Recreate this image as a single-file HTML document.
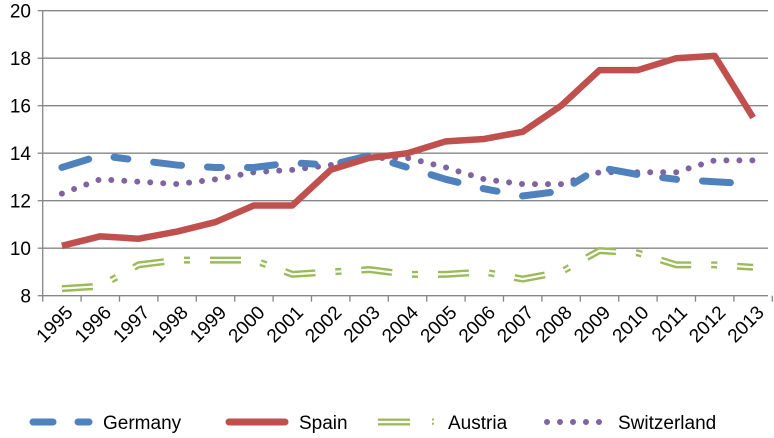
<!DOCTYPE html>
<html><head><meta charset="utf-8"><style>
body{margin:0;background:#fff;width:774px;height:433px;overflow:hidden}
text{font-family:"Liberation Sans",sans-serif;fill:#000}
</style></head><body>
<svg id="chart" width="774" height="433" xmlns="http://www.w3.org/2000/svg"></svg>
<script>
const categories=['1995','1996','1997','1998','1999','2000','2001','2002','2003','2004','2005','2006','2007','2008','2009','2010','2011','2012','2013'];
const germany=[13.4,13.9,13.7,13.5,13.4,13.4,13.6,13.5,13.9,13.4,12.9,12.5,12.2,12.4,13.4,13.1,12.9,12.8,12.7];
const spain=[10.1,10.5,10.4,10.7,11.1,11.8,11.8,13.3,13.8,14.0,14.5,14.6,14.9,16.0,17.5,17.5,18.0,18.1,15.5];
const austria=[8.3,8.4,9.3,9.5,9.5,9.5,8.9,9.0,9.1,8.9,8.9,9.0,8.7,9.0,9.9,9.8,9.3,9.3,9.2];
const switzerland=[12.3,12.9,12.8,12.7,12.9,13.2,13.3,13.5,13.8,13.8,13.4,12.9,12.7,12.7,13.2,13.2,13.2,13.7,13.7];
const yTicks=[8,10,12,14,16,18,20];
const svg=document.getElementById('chart');
const NS='http://www.w3.org/2000/svg';
const x0=42.7,step=38.4;
function xs(i){return x0+step/2+i*step;}
function ys(v){return 295.7-(v-8)*23.75;}
function mk(tag,attrs){const e=document.createElementNS(NS,tag);for(const k in attrs)e.setAttribute(k,attrs[k]);svg.appendChild(e);return e;}
yTicks.forEach(t=>{
  const g=mk('line',{x1:x0,x2:768,y1:ys(t),y2:ys(t),stroke:'#868686','stroke-width':1.3});
  
  
  const l=mk('text',{x:31,y:ys(t)+7,'text-anchor':'end','font-size':19});
  l.textContent=t;
  
  
  const tk=mk('line',{x1:x0-5,x2:x0,y1:ys(t),y2:ys(t),stroke:'#868686','stroke-width':1.3});
  
  
});
const ax=mk('line',{x1:x0,x2:x0,y1:ys(20),y2:ys(8),stroke:'#868686','stroke-width':1.3});


for(let i=0;i<=categories.length;i++){
  const tk=mk('line',{x1:x0+i*step,x2:x0+i*step,y1:ys(8),y2:ys(8)+6,stroke:'#868686','stroke-width':1.3});
  
  
}
categories.forEach((c,i)=>{
  const t=mk('text',{x:0,y:0,'text-anchor':'end','font-size':19,transform:`translate(${xs(i)+12},${ys(8)+18}) rotate(-45)`});
  t.textContent=c;
  
  
});
function pts(arr){return arr.map((v,i)=>xs(i)+','+ys(v)).join(' ');}
let p;
p=mk('polyline',{points:pts(austria),fill:'none',stroke:'#9BBB59','stroke-width':7,'stroke-dasharray':'31 20 6 20'});


p=mk('polyline',{points:pts(austria),fill:'none',stroke:'#fff','stroke-width':2.2,'stroke-dasharray':'31 20 6 20'});


p=mk('polyline',{points:pts(switzerland),fill:'none',stroke:'#8064A2','stroke-width':6,'stroke-linecap':'round','stroke-dasharray':'0 13'});


p=mk('polyline',{points:pts(germany),fill:'none',stroke:'#4F81BD','stroke-width':7,'stroke-linecap':'round','stroke-dasharray':'28 26 14 26'});


p=mk('polyline',{points:pts(spain),fill:'none',stroke:'#C0504D','stroke-width':6.5,'stroke-linejoin':'round'});


const ly=422;
let e;
e=mk('line',{x1:33,x2:53,y1:ly,y2:ly,stroke:'#4F81BD','stroke-width':7,'stroke-linecap':'round'});

e=mk('line',{x1:78,x2:89,y1:ly,y2:ly,stroke:'#4F81BD','stroke-width':7,'stroke-linecap':'round'});

e=mk('line',{x1:229,x2:285,y1:ly,y2:ly,stroke:'#C0504D','stroke-width':7,'stroke-linecap':'round'});

e=mk('line',{x1:378,x2:410,y1:ly,y2:ly,stroke:'#9BBB59','stroke-width':7});

e=mk('line',{x1:378,x2:410,y1:ly,y2:ly,stroke:'#fff','stroke-width':2.2});

e=mk('line',{x1:433,x2:433,y1:ly-3.5,y2:ly+3.5,stroke:'#9BBB59','stroke-width':2,'stroke-dasharray':'2 2.2'});

e=mk('line',{x1:547,x2:600,y1:ly,y2:ly,stroke:'#8064A2','stroke-width':6,'stroke-linecap':'round','stroke-dasharray':'0 13'});

[['Germany',103],['Spain',299],['Austria',448],['Switzerland',618]].forEach(([n,x])=>{
  const t=mk('text',{x:x,y:ly+7,'font-size':19});
  t.textContent=n;
  
  
});
</script>
</body></html>
